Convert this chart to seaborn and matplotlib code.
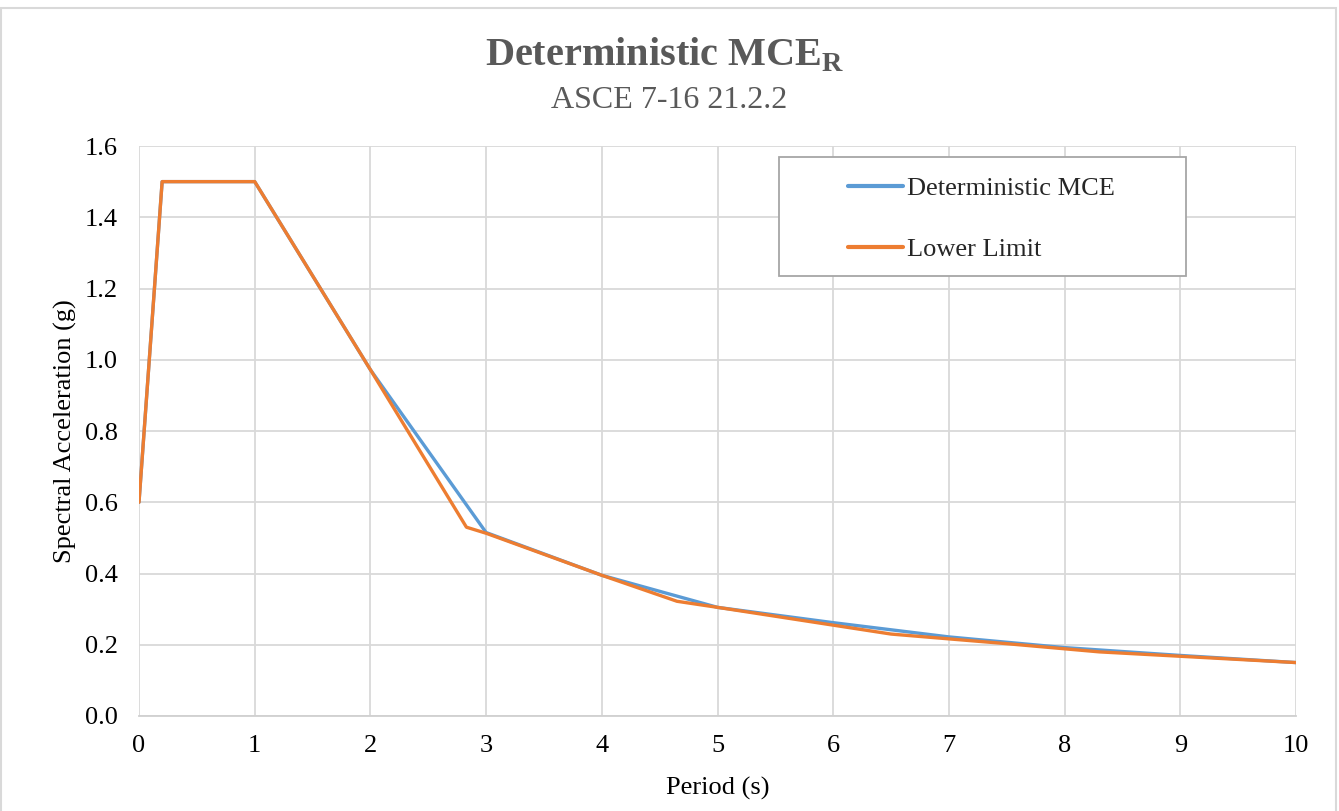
import matplotlib
matplotlib.use("Agg")
import matplotlib.pyplot as plt
import seaborn as sns
import pandas as pd
from matplotlib.patches import Rectangle

# === Данные ===
mce_period = [0.0, 0.2, 1.0, 2.0, 3.0, 4.0, 5.0, 6.0, 7.0, 8.0, 9.0, 10.0]
mce_sa = [0.60, 1.50, 1.50, 0.972, 0.515, 0.395, 0.305, 0.262, 0.222, 0.192, 0.170, 0.150]

lower_period = [0.0, 0.2, 1.0, 2.0, 2.83, 3.0, 4.0, 4.65, 5.0, 6.5, 7.5, 8.3, 10.0]
lower_sa = [0.60, 1.50, 1.50, 0.972, 0.530, 0.513, 0.395, 0.322, 0.305, 0.230, 0.203, 0.180, 0.150]

x_ticks = list(range(0, 11))
y_ticks = [0.0, 0.2, 0.4, 0.6, 0.8, 1.0, 1.2, 1.4, 1.6]

df = pd.concat([
    pd.DataFrame({"Period": mce_period, "Sa": mce_sa, "series": "Deterministic MCE"}),
    pd.DataFrame({"Period": lower_period, "Sa": lower_sa, "series": "Lower Limit"}),
])

sns.set_theme(style="white")
plt.rcParams["font.family"] = ["Liberation Serif", "DejaVu Serif"]
plt.rcParams["mathtext.fontset"] = "custom"
plt.rcParams["mathtext.rm"] = "Liberation Serif"
plt.rcParams["mathtext.bf"] = "Liberation Serif:bold"

W, H = 1339, 811
fig = plt.figure(figsize=(W / 100, H / 100), dpi=100)
ax = fig.add_axes([139 / W, 1 - 716 / H, (1296 - 139) / W, (716 - 146) / H])

sns.lineplot(
    data=df, x="Period", y="Sa", hue="series",
    palette={"Deterministic MCE": "#5B9BD5", "Lower Limit": "#ED7D31"},
    linewidth=2.4, sort=False, estimator=None, ax=ax,
)

ax.set_xlim(0, 10)
ax.set_ylim(0, 1.6)
ax.set_xticks(x_ticks)
ax.set_yticks(y_ticks)
ax.set_yticklabels([f"{v:.1f}" for v in y_ticks])
ax.tick_params(labelsize=19, colors="black", length=0)
ax.tick_params(axis="x", pad=14)
ax.tick_params(axis="y", pad=15)
ax.grid(True, color="#D9D9D9", linewidth=1.3)
ax.set_axisbelow(True)
for s in ["top", "right", "left"]:
    ax.spines[s].set_visible(False)
ax.spines["bottom"].set_color("#D0D0D0")
ax.spines["bottom"].set_linewidth(1.3)

ax.set_xlabel("Period (s)", fontsize=19, color="black", labelpad=14)
ax.set_ylabel("Spectral Acceleration (g)", fontsize=19, color="black", labelpad=6)

# рамка легенды отдельно
ax.add_patch(Rectangle(((779 - 139) / 1157, 1 - (276 - 146) / 570), (1186 - 779) / 1157, (276 - 157) / 570,
                       transform=ax.transAxes, facecolor="white", edgecolor="#A6A6A6",
                       linewidth=1.3, zorder=5))
leg = ax.legend(
    loc="upper left", bbox_to_anchor=((848 - 139) / 1157, 1 - (177 - 146) / 570),
    fontsize=19, frameon=False, handlelength=2.1, borderpad=0, labelspacing=1.42,
    handletextpad=0.15, borderaxespad=0,
)
leg.set_zorder(6)
for line in leg.get_lines():
    line.set_linewidth(3)

fig.text(665 / W, 1 - 55 / H, r"Deterministic MCE$_\mathbf{R}$", ha="center", va="center",
         fontsize=29, fontweight="bold", color="#595959")
fig.text(0.5, 1 - 100 / H, "ASCE 7-16 21.2.2", ha="center", va="center",
         fontsize=23, color="#595959")

fig.patches.append(Rectangle((0.001, -0.01), 0.997, 1.0, transform=fig.transFigure,
                             fill=False, edgecolor="#D9D9D9", linewidth=1.5))

fig.savefig("out.png", dpi=100)
